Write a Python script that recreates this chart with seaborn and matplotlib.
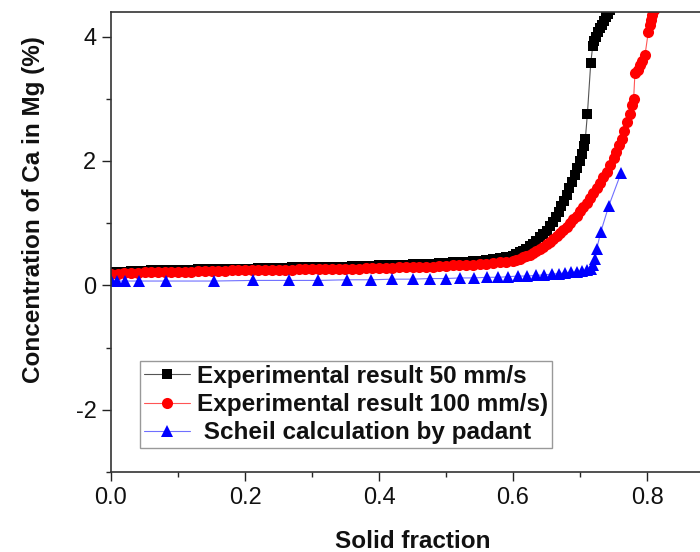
import matplotlib
matplotlib.use("Agg")
import matplotlib.pyplot as plt
import seaborn as sns
import pandas as pd
from matplotlib.ticker import MultipleLocator

# ---------------- data ----------------
exp50_x = [0.00, 0.01, 0.02, 0.03, 0.04, 0.05, 0.06, 0.07, 0.08, 0.09,
           0.10, 0.11, 0.12, 0.13, 0.14, 0.15, 0.16, 0.17, 0.18, 0.19,
           0.20, 0.21, 0.22, 0.23, 0.24, 0.25, 0.26, 0.27, 0.28, 0.29,
           0.30, 0.31, 0.32, 0.33, 0.34, 0.35, 0.36, 0.37, 0.38, 0.39,
           0.40, 0.41, 0.42, 0.43, 0.44, 0.45, 0.46, 0.47, 0.48, 0.49,
           0.50, 0.51, 0.52, 0.53, 0.54, 0.55, 0.56, 0.57, 0.58, 0.59,
           0.60, 0.605, 0.61, 0.615, 0.62, 0.625, 0.63, 0.635, 0.64, 0.645,
           0.65, 0.655, 0.66, 0.664, 0.668, 0.672, 0.676, 0.68, 0.684, 0.688,
           0.692, 0.696, 0.70, 0.703, 0.706, 0.708, 0.711, 0.716, 0.719, 0.721,
           0.724, 0.727, 0.730, 0.733, 0.736, 0.739, 0.742, 0.745]
exp50_y = [0.22, 0.22, 0.22, 0.23, 0.23, 0.23, 0.24, 0.24, 0.24, 0.25,
           0.25, 0.25, 0.25, 0.26, 0.26, 0.26, 0.26, 0.27, 0.27, 0.27,
           0.27, 0.27, 0.28, 0.28, 0.28, 0.28, 0.28, 0.29, 0.29, 0.29,
           0.29, 0.29, 0.30, 0.30, 0.30, 0.30, 0.31, 0.31, 0.31, 0.31,
           0.32, 0.32, 0.32, 0.33, 0.33, 0.34, 0.34, 0.35, 0.35, 0.36,
           0.36, 0.37, 0.37, 0.38, 0.39, 0.40, 0.41, 0.42, 0.44, 0.46,
           0.48, 0.50, 0.53, 0.56, 0.59, 0.63, 0.67, 0.72, 0.77, 0.82,
           0.88, 0.95, 1.02, 1.10, 1.18, 1.27, 1.36, 1.46, 1.56, 1.66,
           1.77, 1.88, 2.00, 2.12, 2.24, 2.36, 2.75, 3.57, 3.85, 3.93,
           4.00, 4.07, 4.13, 4.19, 4.25, 4.31, 4.37, 4.43]

exp100_x = [0.00, 0.01, 0.02, 0.03, 0.04, 0.05, 0.06, 0.07, 0.08, 0.09,
            0.10, 0.11, 0.12, 0.13, 0.14, 0.15, 0.16, 0.17, 0.18, 0.19,
            0.20, 0.21, 0.22, 0.23, 0.24, 0.25, 0.26, 0.27, 0.28, 0.29,
            0.30, 0.31, 0.32, 0.33, 0.34, 0.35, 0.36, 0.37, 0.38, 0.39,
            0.40, 0.41, 0.42, 0.43, 0.44, 0.45, 0.46, 0.47, 0.48, 0.49,
            0.50, 0.51, 0.52, 0.53, 0.54, 0.55, 0.56, 0.57, 0.58, 0.59,
            0.60, 0.605, 0.61, 0.615, 0.62, 0.625, 0.63, 0.635, 0.64, 0.645,
            0.65, 0.655, 0.66, 0.665, 0.67, 0.675, 0.68, 0.685, 0.69, 0.695,
            0.70, 0.705, 0.71, 0.715, 0.72, 0.725, 0.73, 0.735, 0.74, 0.745,
            0.75, 0.754, 0.758, 0.762, 0.766, 0.770, 0.774, 0.778, 0.780, 0.782,
            0.786, 0.790, 0.793, 0.797, 0.802, 0.804, 0.806, 0.808, 0.810]
exp100_y = [0.19, 0.19, 0.20, 0.20, 0.20, 0.21, 0.21, 0.21, 0.21, 0.22,
            0.22, 0.22, 0.22, 0.23, 0.23, 0.23, 0.23, 0.23, 0.24, 0.24,
            0.24, 0.24, 0.24, 0.25, 0.25, 0.25, 0.25, 0.25, 0.26, 0.26,
            0.26, 0.26, 0.26, 0.27, 0.27, 0.27, 0.27, 0.27, 0.28, 0.28,
            0.28, 0.28, 0.28, 0.29, 0.29, 0.29, 0.30, 0.30, 0.30, 0.31,
            0.31, 0.32, 0.32, 0.33, 0.33, 0.34, 0.35, 0.36, 0.37, 0.38,
            0.40, 0.41, 0.43, 0.45, 0.47, 0.49, 0.52, 0.55, 0.58, 0.62,
            0.66, 0.70, 0.74, 0.79, 0.84, 0.89, 0.94, 1.00, 1.06, 1.12,
            1.19, 1.26, 1.33, 1.41, 1.49, 1.57, 1.65, 1.74, 1.83, 1.93,
            2.04, 2.14, 2.25, 2.36, 2.48, 2.62, 2.76, 2.90, 2.99, 3.41,
            3.47, 3.54, 3.61, 3.70, 4.08, 4.18, 4.27, 4.35, 4.43]

scheil_x = [0.000, 0.009, 0.021, 0.042, 0.082, 0.153, 0.212, 0.265, 0.309, 0.352,
            0.388, 0.420, 0.450, 0.476, 0.500, 0.521, 0.542, 0.561, 0.578, 0.593,
            0.608, 0.621, 0.634, 0.646, 0.658, 0.668, 0.678, 0.686, 0.695, 0.703,
            0.710, 0.717, 0.720, 0.723, 0.725, 0.731, 0.743, 0.761]
scheil_y = [0.08, 0.07, 0.07, 0.07, 0.07, 0.07, 0.08, 0.08, 0.08, 0.09,
            0.09, 0.10, 0.10, 0.11, 0.11, 0.12, 0.12, 0.13, 0.13, 0.14,
            0.15, 0.15, 0.16, 0.17, 0.18, 0.19, 0.20, 0.21, 0.22, 0.23,
            0.24, 0.26, 0.33, 0.43, 0.59, 0.86, 1.28, 1.80]

labels = ["Experimental result 50 mm/s",
          "Experimental result 100 mm/s)",
          " Scheil calculation by padant"]
x_ticks = [0.0, 0.2, 0.4, 0.6, 0.8]
y_ticks = [-2, 0, 2, 4]

# ---------------- style ----------------
sns.set_style("ticks")
plt.rcParams["font.family"] = ["Liberation Sans", "DejaVu Sans"]

fig = plt.figure(figsize=(7.0, 5.52), dpi=100)
ax = fig.add_axes([111 / 700, 80 / 552, 603 / 700, 460.3 / 552])

series = [
    (exp50_x, exp50_y, "#000000", "#555555", "s", 7.3),
    (exp100_x, exp100_y, "#ff0000", "#ff5555", "o", 8.0),
    (scheil_x, scheil_y, "#0000ff", "#6f6fff", "^", 8.2),
]
handles = []
for (xs, ys, mc, lc, mk, ms), lab in zip(series, labels):
    df = pd.DataFrame({"x": xs, "y": ys})
    sns.lineplot(data=df, x="x", y="y", ax=ax, sort=False, estimator=None,
                 color=lc, linewidth=0.8, marker=mk, markersize=ms,
                 markerfacecolor=mc, markeredgecolor=mc, markeredgewidth=0,
                 legend=False)
    handles.append(ax.lines[-1])

ax.set_xlim(0, 0.9)
ax.set_ylim(-3, 4.4)
ax.set_xticks(x_ticks)
ax.set_xticklabels([f"{t:.1f}" for t in x_ticks])
ax.set_yticks(y_ticks)
ax.set_yticklabels([str(t) for t in y_ticks])
ax.xaxis.set_minor_locator(MultipleLocator(0.1))
ax.yaxis.set_minor_locator(MultipleLocator(1))
ax.tick_params(axis="both", which="major", direction="out", length=6.5,
               width=1.0, labelsize=17, pad=4, colors="#222222")
ax.tick_params(axis="both", which="minor", direction="out", length=3.5, width=1.0)
ax.tick_params(axis="both", labelcolor="#111111")

for side in ["left", "bottom", "top"]:
    ax.spines[side].set_linewidth(1.2)
    ax.spines[side].set_color("#333333")
ax.spines["right"].set_visible(False)

ax.set_xlabel("Solid fraction", fontsize=17.5, fontweight="bold", color="#111111")
ax.set_ylabel("Concentration of Ca in Mg (%)", fontsize=17.5, fontweight="bold",
              color="#111111")
ax.xaxis.set_label_coords(0.5, -0.127)
ax.yaxis.set_label_coords(-0.11, 0.57)

leg = ax.legend(handles, labels, loc="lower left", bbox_to_anchor=(0.048, 0.052),
                borderaxespad=0, fancybox=False, frameon=True,
                prop={"size": 17.5, "weight": "bold"},
                handlelength=1.9, handletextpad=0.3, labelspacing=0.22,
                borderpad=0.15, framealpha=1)
leg.get_frame().set_edgecolor("#999999")
leg.get_frame().set_linewidth(1.0)
for t in leg.get_texts():
    t.set_color("#111111")

fig.savefig("out.png", dpi=100)
